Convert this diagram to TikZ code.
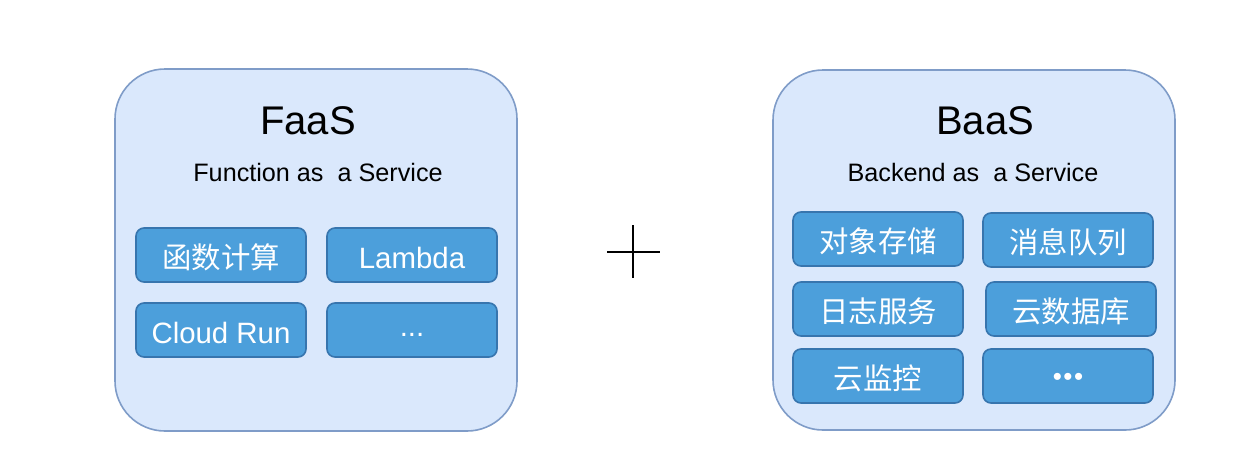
\documentclass[tikz,border=0pt]{standalone}
\usepackage{fontspec}
\setmainfont{Liberation Sans}
\newfontfamily\cjk{Noto Sans CJK SC}
\definecolor{outerfill}{HTML}{DAE8FC}
\definecolor{outerline}{HTML}{7F9CC8}
\definecolor{itemfill}{HTML}{4C9FDB}
\definecolor{itemline}{HTML}{3775AE}

\begin{document}
\begin{tikzpicture}[x=0.5pt, y=-0.5pt,
    bigbox/.style={draw=outerline, fill=outerfill, line width=0.8pt, rounded corners=25pt},
    item/.style={draw=itemline, fill=itemfill, line width=0.8pt, rounded corners=4pt,
      minimum width=85pt, minimum height=27pt, inner sep=0pt, text height=13pt, text depth=0pt,
      text=white, font=\fontsize{14.7}{16}\selectfont},
    title/.style={font=\fontsize{20}{22}\selectfont},
    subtitle/.style={font=\fontsize{12.6}{14}\selectfont}]
          \useasboundingbox (0,0) rectangle (1234,450);

          \draw[bigbox] (115,69) rectangle (517,431);
          \draw[bigbox] (773,70) rectangle (1175,430);

          \node[title] (faas) at (308,121) {FaaS};
          \node[subtitle] (faassub) at (318,172) {Function as\ \ a Service};
          \node[item] (fc) at (221,255) {\cjk 函数计算};
          \node[item] (lambda) at (412,255) {Lambda};
          \node[item] (cloudrun) at (221,330) {Cloud Run};
          \node[item] (fmore) at (412,330) {\raisebox{3.5pt}{...}};

          \node[title] (baas) at (985,121) {BaaS};
          \node[subtitle] (baassub) at (973,172) {Backend as\ \ a Service};
          \node[item] (oss) at (878,239) {\cjk 对象存储};
          \node[item] (mq) at (1068,240) {\cjk 消息队列};
          \node[item] (log) at (878,309) {\cjk 日志服务};
          \node[item] (db) at (1071,309) {\cjk 云数据库};
          \node[item] (mon) at (878,376) {\cjk 云监控};
          \node[item] (bmore) at (1068,376) {\raisebox{1.75pt}{\fontsize{13}{15}\selectfont •\hspace{0.75pt}•\hspace{0.75pt}•}};

          \draw[line width=0.75pt] (607,252) -- (660,252);
          \draw[line width=0.75pt] (633,225) -- (633,278);
        \end{tikzpicture}
\end{document}
